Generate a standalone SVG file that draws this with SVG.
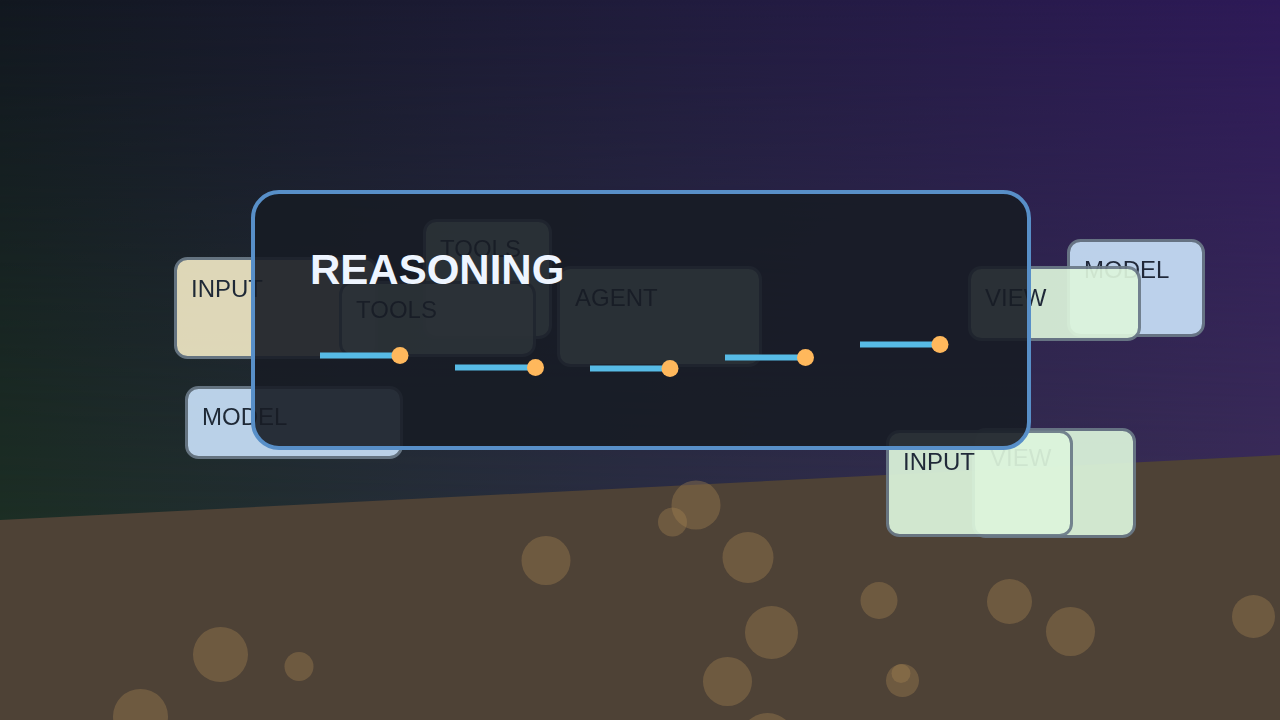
<svg xmlns="http://www.w3.org/2000/svg" width="1280" height="720" viewBox="0 0 1280 720">
  <defs>
    <linearGradient id="topG" x1="0" y1="0" x2="1" y2="0">
      <stop offset="0" stop-color="#121820"/>
      <stop offset="0.5" stop-color="#201c3c"/>
      <stop offset="1" stop-color="#2e1a58"/>
    </linearGradient>
    <linearGradient id="botG" x1="0" y1="0" x2="1" y2="0">
      <stop offset="0" stop-color="#1c2e24"/>
      <stop offset="0.5" stop-color="#2a2d42"/>
      <stop offset="1" stop-color="#3a2c58"/>
    </linearGradient>
    <linearGradient id="vMask" x1="0" y1="0" x2="0" y2="520" gradientUnits="userSpaceOnUse">
      <stop offset="0" stop-color="#000"/>
      <stop offset="1" stop-color="#fff"/>
    </linearGradient>
    <mask id="lowerMask">
      <rect width="1280" height="720" fill="url(#vMask)"/>
    </mask>
    <style>
      .node rect { stroke: #6b7a88; stroke-width: 3; }
      .node { opacity: 0.92; }
      .lbl { font-family: "Liberation Sans", Arial, sans-serif; font-size: 24px; fill: #1f2937; }
      .green { fill: #ddf5dc; }
      .blue { fill: #c8e0f8; }
      .beige { fill: #efe7c4; }
      .link { stroke: #57bbe6; stroke-width: 6; fill: none; }
      .dot { fill: #ffb85c; }
      .pebble { fill: #a08050; opacity: 0.4; }
    </style>
  </defs>

  <!-- background scene -->
  <rect width="1280" height="720" fill="url(#topG)"/>
  <rect width="1280" height="720" fill="url(#botG)" mask="url(#lowerMask)"/>
  <polygon points="0,520 1280,455 1280,720 0,720" fill="#4e4236"/>
  <g id="pebbles">
    <circle class="pebble" cx="696" cy="505" r="24.5"/>
    <circle class="pebble" cx="672.5" cy="522" r="14.5"/>
    <circle class="pebble" cx="546" cy="560.5" r="24.5"/>
    <circle class="pebble" cx="748" cy="557.5" r="25.5"/>
    <circle class="pebble" cx="879" cy="600.5" r="18.5"/>
    <circle class="pebble" cx="1009.5" cy="601.5" r="22.5"/>
    <circle class="pebble" cx="1070.5" cy="631.5" r="24.5"/>
    <circle class="pebble" cx="1253.5" cy="616.5" r="21.5"/>
    <circle class="pebble" cx="771.5" cy="632.5" r="26.5"/>
    <circle class="pebble" cx="727.5" cy="681.5" r="24.5"/>
    <circle class="pebble" cx="902.5" cy="680.5" r="16.5"/>
    <circle class="pebble" cx="901" cy="673.5" r="9.5"/>
    <circle class="pebble" cx="220.5" cy="654.5" r="27.5"/>
    <circle class="pebble" cx="299" cy="666.5" r="14.5"/>
    <circle class="pebble" cx="140.5" cy="716.5" r="27.5"/>
    <circle class="pebble" cx="767.5" cy="741" r="28"/>
  </g>

  <!-- nodes -->
  <g id="node-input-left" class="node">
    <rect class="beige" x="175.5" y="258.5" width="201" height="99" rx="12"/>
    <text class="lbl" x="191" y="297">INPUT</text>
  </g>
  <g id="node-model-left" class="node">
    <rect class="blue" x="186.5" y="387.5" width="215" height="70" rx="12"/>
    <text class="lbl" x="202" y="425">MODEL</text>
  </g>
  <g id="node-tools-upper" class="node">
    <rect class="green" x="424.5" y="220.5" width="126" height="117" rx="12"/>
    <text class="lbl" x="440" y="257">TOOLS</text>
  </g>
  <g id="node-tools-lower" class="node">
    <rect class="green" x="340.5" y="282.5" width="194" height="73" rx="12"/>
    <text class="lbl" x="356" y="318">TOOLS</text>
  </g>
  <g id="node-agent" class="node">
    <rect class="green" x="558.5" y="267.5" width="202" height="98" rx="12"/>
    <text class="lbl" x="575" y="306">AGENT</text>
  </g>
  <g id="node-model-right" class="node">
    <rect class="blue" x="1068.5" y="240.5" width="135" height="95" rx="12"/>
    <text class="lbl" x="1084" y="278">MODEL</text>
  </g>
  <g id="node-view-right" class="node">
    <rect class="green" x="969.5" y="267.5" width="170" height="72" rx="12"/>
    <text class="lbl" x="985" y="306">VIEW</text>
  </g>
  <g id="node-view-lower" class="node">
    <rect class="green" x="973.5" y="429.5" width="161" height="107" rx="12"/>
    <text class="lbl" x="990" y="466">VIEW</text>
  </g>
  <g id="node-input-lower" class="node">
    <rect class="green" x="887.5" y="431.5" width="184" height="104" rx="12"/>
    <text class="lbl" x="903" y="470">INPUT</text>
  </g>

  <!-- reasoning panel -->
  <g id="panel-reasoning">
    <rect x="253" y="192" width="776" height="256" rx="26" fill="#171c25" fill-opacity="0.9" stroke="#588fc8" stroke-width="4"/>
  </g>

  <!-- connectors -->
  <g id="connectors">
    <line class="link" x1="320" y1="355.5" x2="400" y2="355.5"/>
    <circle class="dot" cx="400" cy="355.5" r="8.5"/>
    <line class="link" x1="455" y1="367.5" x2="535" y2="367.5"/>
    <circle class="dot" cx="535.5" cy="367.5" r="8.5"/>
    <line class="link" x1="590" y1="368.5" x2="670" y2="368.5"/>
    <circle class="dot" cx="670" cy="368.5" r="8.5"/>
    <line class="link" x1="725" y1="357.5" x2="805" y2="357.5"/>
    <circle class="dot" cx="805.5" cy="357.5" r="8.5"/>
    <line class="link" x1="860" y1="344.5" x2="940" y2="344.5"/>
    <circle class="dot" cx="940" cy="344.5" r="8.5"/>
  </g>

  <g id="title">
    <text x="310" y="284" font-family="Liberation Sans, Arial, sans-serif" font-size="42" font-weight="bold" fill="#eef5ff">REASONING</text>
  </g>
</svg>
